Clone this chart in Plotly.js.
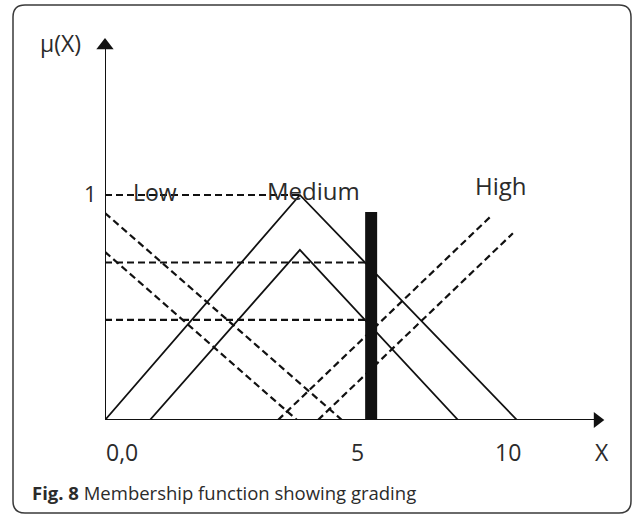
<!DOCTYPE html>
<html>
<head>
<meta charset="utf-8">
<script src="https://cdn.plot.ly/plotly-3.0.1.min.js"></script>
<style>
html,body{margin:0;padding:0;background:#fff;}
#chart{width:635px;height:516px;}
</style>
</head>
<body>
<div id="chart"></div>
<script>
// ---- data (x in schematic units, y = membership degree) ----
var mediumOuterX = [0, 4.73, 10];
var mediumOuterY = [0, 1, 0];
var mediumInnerX = [1.09, 4.73, 8.57];
var mediumInnerY = [0, 0.756, 0];
var lowOuterX = [0, 5.75];
var lowOuterY = [0.92, 0];
var lowInnerX = [0, 4.66];
var lowInnerY = [0.747, 0];
var highOuterX = [4.2, 9.39];
var highOuterY = [0, 0.91];
var highInnerX = [5.17, 9.9];
var highInnerY = [0, 0.83];
var levelOneX = [0, 4.73];
var levelOneY = [1, 1];
var levelUpperX = [0, 6.4];
var levelUpperY = [0.70, 0.70];
var levelLowerX = [0, 6.4];
var levelLowerY = [0.445, 0.445];
var inputX = [6.46, 6.46];
var inputY = [0, 0.924];
var setLabels = ['Low', 'Medium', 'High'];
var tickLabels = ['0,0', '5', '10', 'X'];
var yAxisLabel = 'μ(X)';
var oneLabel = '1';
var caption = '<b>Fig. 8</b> Membership function showing grading';

// ---- layout helpers ----
var L = 105, R = 20, T = 30, B = 96, W = 635, H = 516;
var pw = W - L - R, ph = H - T - B;
var xRange = [0, pw / 41.2];
var yRange = [0, ph / 225];
function pxX(p){ return (p - L) / pw; }
function pxY(p){ return (H - B - p) / ph; }
function dX(v){ return (v - xRange[0]) / (xRange[1] - xRange[0]); }
function dY(v){ return (v - yRange[0]) / (yRange[1] - yRange[0]); }

var ink = '#111111';
var txt = '#2b2b2b';
var font = 'Open Sans, Noto Sans, sans-serif';

function line(x, y, dash, width){
  return {x: x, y: y, mode: 'lines', type: 'scatter', hoverinfo: 'skip', showlegend: false,
          cliponaxis: false,
          line: {color: ink, width: width || 2, dash: dash || 'solid'}};
}

var dash = '7px,4px';
var traces = [
  line(levelOneX, levelOneY, dash, 1.8),
  line(levelUpperX, levelUpperY, dash, 2.2),
  line(levelLowerX, levelLowerY, dash, 2.2),
  line(lowOuterX, lowOuterY, dash, 2.2),
  line(lowInnerX, lowInnerY, dash, 2.2),
  line(highOuterX, highOuterY, dash, 2.2),
  line(highInnerX, highInnerY, dash, 2.2),
  line(mediumOuterX, mediumOuterY, 'solid', 1.8),
  line(mediumInnerX, mediumInnerY, 'solid', 1.8),
  line(inputX, inputY, 'solid', 12),
  // axes with arrow heads
  {x: [0, 0], y: [0, 1.665], mode: 'lines', type: 'scatter', hoverinfo: 'skip', showlegend: false, cliponaxis: false,
   line: {color: ink, width: 2}},
  {x: [0, 11.95], y: [0, 0], mode: 'lines', type: 'scatter', hoverinfo: 'skip', showlegend: false, cliponaxis: false,
   line: {color: ink, width: 2}},
  {x: [0], y: [1.665], mode: 'markers', type: 'scatter', hoverinfo: 'skip', showlegend: false, cliponaxis: false,
   marker: {symbol: 'triangle-up', size: 15, color: ink}},
  {x: [11.95], y: [0], mode: 'markers', type: 'scatter', hoverinfo: 'skip', showlegend: false, cliponaxis: false,
   marker: {symbol: 'triangle-right', size: 14, color: ink}}
];

var ann = [];
function addText(t, x, y, size, xanchor){
  ann.push({text: t, x: x, y: y, xref: 'paper', yref: 'paper', showarrow: false,
            xanchor: xanchor || 'center', yanchor: 'middle',
            font: {family: font, size: size, color: txt}});
}
addText(yAxisLabel, dX(-1.09), dY(1.676), 23);
addText(oneLabel, dX(-0.36), dY(1.009), 22);
addText(setLabels[0], dX(1.21), dY(1.013), 23);
addText(setLabels[1], dX(5.05), dY(1.022), 24);
addText(setLabels[2], dX(9.61), dY(1.044), 24);
var tickPos = [0.41, 6.12, 9.78, 12.06];
for (var i = 0; i < tickLabels.length; i++) addText(tickLabels[i], dX(tickPos[i]), dY(-0.142), 23);
addText(caption, pxX(30), pxY(492), 18.5, 'left');

// rounded frame
var fl = 13, fr = 631, ft = 5, fb = 513, rad = 12;
function P(x, y){ return pxX(x) + ',' + pxY(y); }
var framePath = 'M ' + P(fl + rad, ft) + ' L ' + P(fr - rad, ft) + ' Q ' + P(fr, ft) + ' ' + P(fr, ft + rad) +
  ' L ' + P(fr, fb - rad) + ' Q ' + P(fr, fb) + ' ' + P(fr - rad, fb) +
  ' L ' + P(fl + rad, fb) + ' Q ' + P(fl, fb) + ' ' + P(fl, fb - rad) +
  ' L ' + P(fl, ft + rad) + ' Q ' + P(fl, ft) + ' ' + P(fl + rad, ft) + ' Z';

var layout = {
  width: W, height: H,
  margin: {l: L, r: R, t: T, b: B, pad: 0},
  paper_bgcolor: '#ffffff', plot_bgcolor: 'rgba(0,0,0,0)',
  showlegend: false,
  xaxis: {range: xRange, showgrid: false, zeroline: false, showline: false, showticklabels: false, ticks: '', fixedrange: true},
  yaxis: {range: yRange, showgrid: false, zeroline: false, showline: false, showticklabels: false, ticks: '', fixedrange: true},
  annotations: ann,
  shapes: [{type: 'path', xref: 'paper', yref: 'paper', path: framePath,
            line: {color: '#3a3a3a', width: 1.5}, fillcolor: 'rgba(0,0,0,0)', layer: 'below'}]
};

Plotly.newPlot('chart', traces, layout, {staticPlot: true, displayModeBar: false});
</script>
</body>
</html>
